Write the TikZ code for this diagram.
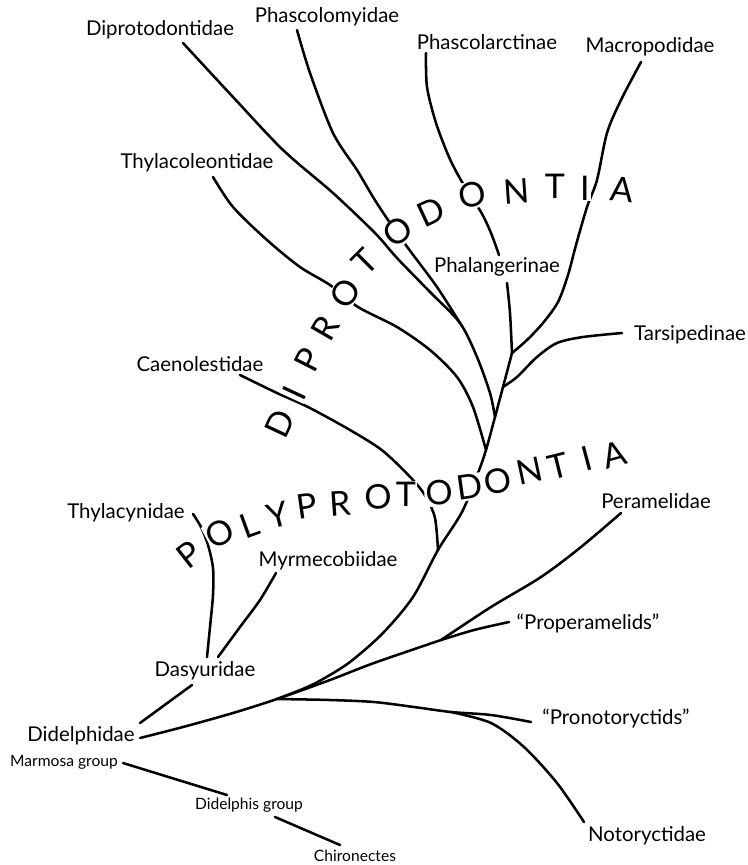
\documentclass[tikz,border=0pt]{standalone}
\usepackage{fontspec}
\setmainfont{Lato}
\newfontfamily\bigfont{Lato}
\begin{document}
\begin{tikzpicture}[x=0.75pt,y=-0.75pt,
  br/.style={line width=1.9pt, line cap=round, line join=round},
  lab/.style={font=\fontsize{15.3}{17}\selectfont, inner sep=1pt},
  sm/.style={font=\fontsize{11.7}{13}\selectfont, inner sep=1pt},
  big/.style={font=\bigfont\fontsize{25.5}{27}\selectfont, fill=white, inner sep=0.8pt}]
\useasboundingbox (0,0) rectangle (748,865);

% ---- labels ----
\node[lab] (dipro) at (160,30) {Diprotodontidae};
\node[lab] (phascolom) at (327,17) {Phascolomyidae};
\node[lab] (phascolar) at (487,42) {Phascolarctinae};
\node[lab] (macro) at (650,47) {Macropodidae};
\node[lab] (thylacoleo) at (197,163) {Thylacoleontidae};
\node[lab] (phalang) at (497,267) {Phalangerinae};
\node[lab] (tarsi) at (690,335) {Tarsipedinae};
\node[lab] (caeno) at (200,364) {Caenolestidae};
\node[lab] (thylacyn) at (126,513) {Thylacynidae};
\node[lab] (myrme) at (328,561) {Myrmecobiidae};
\node[lab] (dasy) at (205,671) {Dasyuridae};
\node[lab] (didel) at (81,736) {Didelphidae};
\node[sm] (marmosa) at (64,762) {Marmosa group};
\node[sm] (didelphis) at (249,805) {Didelphis group};
\node[sm] (chiro) at (355,856) {Chironectes};
\node[lab] (peram) at (656,501) {Peramelidae};
\node[lab] (properam) at (588,623) {“Properamelids”};
\node[lab] (pronoto) at (616,718) {“Pronotoryctids”};
\node[lab] (notoryct) at (647,836) {Notoryctidae};

% ---- junctions ----
\coordinate (n0) at (277,699);
\coordinate (nper) at (441,640);
\coordinate (npro) at (451,712);
\coordinate (npoly) at (438,550);
\coordinate (nthy) at (486,450);
\coordinate (ndp) at (495,417);
\coordinate (nmerge) at (460,323);
\coordinate (ntar) at (503,387);
\coordinate (nphal) at (512,353);

% ---- branches ----
% Didelphidae -> peramelid node
\draw[br] plot[smooth] coordinates {(140,738) (183,727) (233,713) (n0) (330,680) (374,663) (nper)};
% Didelphidae -> Dasyuridae
\draw[br] (140,723) -- (192,685);
% stem + trunk
\draw[br] plot[smooth] coordinates {(n0) (305,688) (323,679) (350,662) (383,633) (413,597) (npoly) (462,512) (478,473) (nthy) (ndp) (ntar) (nphal)};
% pronotoryctids
\draw[br] plot[smooth] coordinates {(n0) (330,700) (374,702) (414,707) (npro) (491,715) (531,722)};
\draw[br] plot[smooth] coordinates {(npro) (491,723) (524,747) (557,783) (584,822)};
% peramelids
\draw[br] plot[smooth] coordinates {(nper) (491,607) (541,577) (581,547) (621,513)};
\draw[br] plot[smooth] coordinates {(nper) (474,630) (509,622)};
% dasyurids
\draw[br] plot[smooth] coordinates {(193,514) (201,527) (208,545) (213,568) (213,595) (210,627) (207,657)};
\draw[br] plot[smooth] coordinates {(276,573) (260,600) (240,627) (218,657)};
% Caenolestidae
\draw[br] plot[smooth] coordinates {(240,375) (277,393) (308,407) (350,430) (383,451) (413,480) (426,497) (435,518) (npoly)};
% Thylacoleontidae
\draw[br] plot[smooth] coordinates {(213,177) (233,207) (267,240) (300,267) (330,285) (358,307) (397,327) (430,350) (457,377) (473,407) (nthy)};
% Diprotodontidae
\draw[br] plot[smooth] coordinates {(183,43) (233,97) (283,150) (333,193) (375,233) (397,258) (430,292) (nmerge) (477,357) (490,393) (ndp)};
% Phascolomyidae
\draw[br] plot[smooth] coordinates {(297,30) (310,73) (333,133) (357,170) (373,197) (388,220) (408,248) (437,287) (nmerge)};
% Phascolarctinae
\draw[br] plot[smooth] coordinates {(426,53) (427,87) (436,123) (449,157) (462,182) (481,212) (491,233) (499,255)};
% Phalangerinae
\draw[br] plot[smooth] coordinates {(507,283) (510,313) (nphal)};
% Macropodidae
\draw[br] plot[smooth] coordinates {(641,62) (621,100) (607,133) (597,180) (587,207) (576,245) (568,275) (558,302) (543,323) (527,340) (nphal)};
% Tarsipedinae
\draw[br] plot[smooth] coordinates {(622,333) (583,337) (557,343) (537,357) (517,377) (ntar)};
% Didelphid groups
\draw[br] (123,763) -- (227,795);
\draw[br] (275,817) -- (340,845);

% ---- big letters ----
\foreach \ch/\x/\y/\r [count=\i] in {D/280/424/65, I/294/393/65, P/308/360/63, R/325/328/60, O/345/293/55, T/365/262/45, O/398/232/38, D/431/212/25, O/472/195/12, N/517/191/4, T/555/186/0, I/585/188/0, A/622/190/-6}
  \node[big, rotate=\r] (dip\i) at (\x,\y) {\ch};
\foreach \ch/\x/\y/\r [count=\i] in {P/189/555/38, O/220/533/28, L/250/525/20, Y/278/515/14, P/307/506/8, R/340/504/4, O/378/497/2, T/406/494/0, O/439/493/3, D/470/487/8, O/498/481/10, N/530/471/12, T/558/466/14, I/587/458/15, A/614/455/15}
  \node[big, rotate=\r] (pol\i) at (\x,\y) {\ch};
\end{tikzpicture}
\end{document}
